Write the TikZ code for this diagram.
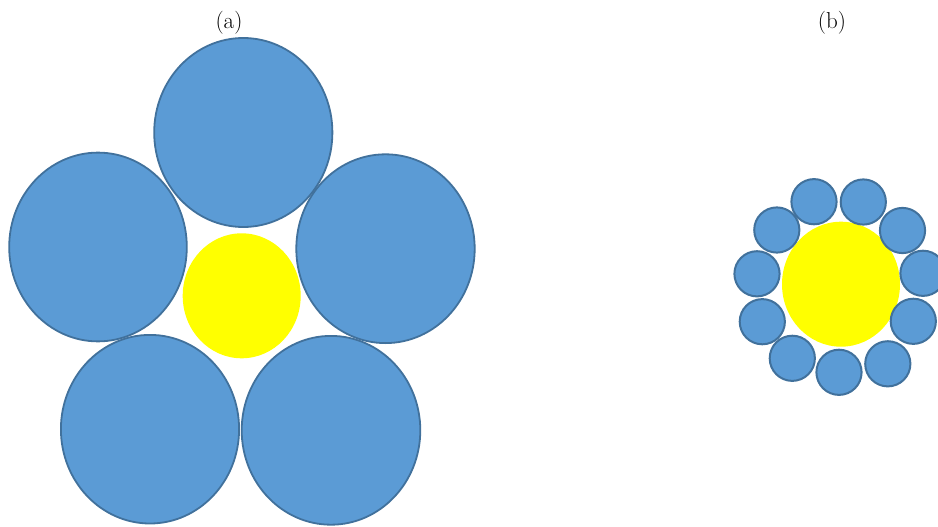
\documentclass[tikz,border=0pt]{standalone}
\definecolor{blobfill}{HTML}{5B9BD5}
\definecolor{blobline}{HTML}{41719C}
\definecolor{coreyellow}{HTML}{FFFF00}
\begin{document}
\begin{tikzpicture}[x=1pt,y=-1pt,
  bigblob/.style={fill=blobfill,draw=blobline,line width=1.8pt},
  smallblob/.style={fill=blobfill,draw=blobline,line width=2pt},
  core/.style={fill=coreyellow},
  caption/.style={anchor=base,inner sep=0pt,font=\fontsize{23}{27}\selectfont}]
\useasboundingbox (0,0) rectangle (938,527);
% (a)
\node[caption] (capa) at (229,28.5) {(a)};
\fill[core] (241.7,295.8) ellipse [x radius=59, y radius=62.5];
\draw[bigblob] (243.3,132.5) ellipse [x radius=89.1, y radius=94.5];
\draw[bigblob] (98,247) ellipse [x radius=88.8, y radius=94.4];
\draw[bigblob] (385.5,248.7) ellipse [x radius=89.2, y radius=94.4];
\draw[bigblob] (150,429.2) ellipse [x radius=89.1, y radius=94.3];
\draw[bigblob] (331,430.3) ellipse [x radius=89.3, y radius=94.4];
% (b)
\node[caption] (capb) at (832,28.5) {(b)};
\fill[core] (841,284.2) ellipse [x radius=59, y radius=62.5];
\foreach \cx/\cy in {814/201.7, 863.3/202, 902.5/230.5, 923/273.3, 913.3/321.3,
  887.8/363.8, 839/372.3, 792.3/358.3, 762.3/321.7, 757/273.8, 776.8/230}
  \draw[smallblob] (\cx,\cy) circle [radius=22.6];
\end{tikzpicture}
\end{document}
